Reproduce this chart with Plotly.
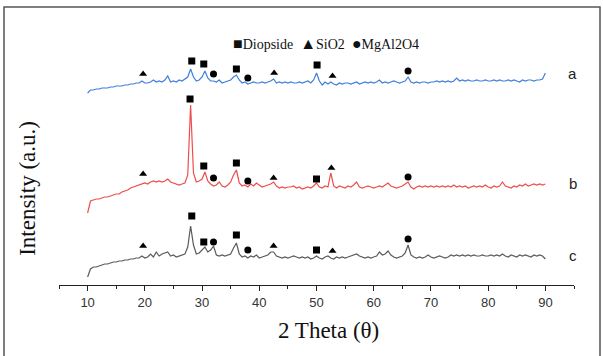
import plotly.graph_objects as go

# 2-theta grid (degrees)
theta = [10 + 0.5 * i for i in range(161)]

# Offset intensity patterns (a.u.)
sample_a = [192, 195, 195, 196, 196, 197, 197, 197, 198, 198,
            199, 199, 199, 200, 200, 201, 201, 202, 202, 204,
            202, 202, 203, 205, 203, 204, 203, 205, 209, 203,
            204, 203, 205, 204, 206, 208, 216, 208, 204, 205,
            208, 214, 207, 204, 204, 203, 205, 202, 203, 204,
            205, 208, 210, 205, 202, 203, 201, 202, 203, 202,
            202, 203, 202, 203, 204, 206, 202, 203, 202, 203,
            202, 203, 202, 202, 203, 202, 203, 204, 202, 205,
            212, 204, 200, 203, 201, 203, 201, 200, 202, 201,
            202, 202, 201, 202, 203, 201, 202, 203, 202, 203,
            202, 203, 205, 202, 203, 202, 203, 204, 203, 202,
            203, 204, 208, 203, 202, 203, 202, 203, 203, 202,
            203, 203, 204, 203, 204, 203, 204, 203, 204, 207,
            204, 205, 204, 205, 204, 204, 205, 204, 204, 205,
            204, 204, 205, 204, 205, 204, 204, 205, 204, 205,
            204, 203, 205, 204, 205, 205, 204, 205, 205, 206,
            212]

sample_b = [72, 84, 85, 86, 86, 87, 88, 88, 89, 90,
            91, 91, 93, 94, 95, 97, 98, 99, 100, 101,
            102, 101, 103, 104, 103, 104, 103, 104, 106, 103,
            102, 101, 100, 101, 102, 110, 180, 112, 103, 104,
            106, 113, 104, 101, 99, 100, 103, 99, 98, 100,
            103, 110, 115, 102, 99, 100, 98, 101, 99, 102,
            100, 98, 99, 100, 101, 103, 99, 97, 98, 97,
            98, 98, 99, 97, 98, 96, 97, 98, 97, 99,
            102, 98, 97, 99, 98, 112, 99, 97, 99, 98,
            97, 99, 98, 100, 103, 98, 97, 98, 99, 98,
            97, 98, 99, 98, 100, 102, 99, 98, 97, 98,
            99, 101, 103, 98, 96, 98, 99, 98, 99, 98,
            99, 98, 99, 98, 99, 98, 99, 98, 100, 98,
            99, 98, 99, 97, 98, 99, 98, 99, 98, 100,
            98, 97, 99, 98, 99, 103, 99, 98, 97, 99,
            98, 100, 99, 101, 99, 100, 101, 100, 101, 100,
            101]

sample_c = [8, 16, 18, 18, 19, 20, 21, 21, 22, 23,
            23, 24, 24, 25, 25, 26, 26, 27, 27, 29,
            27, 28, 31, 28, 33, 29, 31, 32, 33, 29,
            30, 28, 29, 30, 31, 38, 59, 40, 31, 32,
            35, 38, 33, 35, 39, 30, 29, 30, 29, 30,
            31, 37, 42, 31, 28, 29, 27, 29, 28, 30,
            27, 28, 29, 30, 33, 33, 29, 28, 27, 28,
            27, 28, 29, 28, 27, 28, 27, 28, 26, 27,
            29, 27, 26, 28, 29, 27, 26, 28, 27, 28,
            27, 28, 29, 30, 31, 29, 28, 27, 28, 27,
            28, 29, 33, 30, 31, 34, 30, 28, 27, 28,
            29, 32, 40, 30, 28, 27, 28, 27, 28, 30,
            28, 27, 28, 29, 28, 27, 28, 30, 29, 30,
            29, 30, 29, 30, 29, 30, 29, 29, 30, 29,
            29, 30, 29, 30, 29, 31, 29, 28, 30, 29,
            28, 30, 29, 30, 29, 28, 30, 29, 30, 29,
            26]

# Phase markers: (2theta, height, phase)
marks_theta = [19.7, 28.2, 30.3, 32.0, 36.0, 38.0, 42.6, 50.1, 52.8, 66.0,
               19.7, 27.9, 30.3, 32.0, 36.0, 38.0, 42.5, 50.0, 52.6, 66.0,
               19.7, 28.2, 30.3, 32.0, 36.0, 38.0, 42.5, 50.0, 52.8, 66.0]
marks_height = [211, 224, 221, 211, 216, 207, 212, 220, 209, 214,
                111, 186, 119, 107, 122, 104, 107, 106, 117, 108,
                39, 69, 43, 43, 50, 35, 39, 35, 34, 46]
marks_phase = ["S", "D", "D", "M", "D", "M", "S", "D", "S", "M"] * 3
phase_symbol = {"D": "square", "S": "triangle-up", "M": "circle"}

curve_labels = ["a", "b", "c"]
label_heights = [212, 102, 30]

fig = go.Figure()
for y, col in [(sample_a, "#3f7fdc"), (sample_b, "#ee4d4d"), (sample_c, "#5a5a5a")]:
    fig.add_trace(go.Scatter(x=theta, y=y, mode="lines",
                             line=dict(color=col, width=1.2), showlegend=False))

fig.add_trace(go.Scatter(x=marks_theta, y=marks_height, mode="markers",
                         marker=dict(symbol=[phase_symbol[p] for p in marks_phase],
                                     color="black", size=7),
                         showlegend=False))

for lab, h in zip(curve_labels, label_heights):
    fig.add_annotation(x=94.8, y=h, xref="x", yref="y", text=lab, showarrow=False,
                       font=dict(family="Liberation Sans, Arial", size=15, color="#222"))

fig.add_annotation(x=0.518, y=0.916, xref="paper", yref="paper",
                   text="<span style='font-size:16px'>■</span>Diopside  "
                        "<span style='font-size:16px'>▲</span>SiO2  "
                        "<span style='font-size:16px'>●</span>MgAl2O4",
                   showarrow=False,
                   font=dict(family="Liberation Serif, Times New Roman", size=14, color="#111"))

fig.add_annotation(x=0.523, y=-0.165, xref="paper", yref="paper", text="2 Theta (θ)",
                   showarrow=False, yanchor="middle",
                   font=dict(family="Liberation Serif, Times New Roman", size=23, color="#111"))
fig.add_annotation(x=-0.06, y=0.35, xref="paper", yref="paper", text="Intensity (a.u.)",
                   showarrow=False, textangle=-90, xanchor="center", yanchor="middle",
                   font=dict(family="Liberation Serif, Times New Roman", size=23, color="#111"))

fig.add_shape(type="rect", xref="paper", yref="paper",
              x0=-0.1068, x1=1.0505, y0=-0.4, y1=1.0109,
              line=dict(color="#555555", width=1.5))

fig.update_layout(
    width=603, height=356,
    margin=dict(l=59, r=29, t=10, b=71),
    plot_bgcolor="white", paper_bgcolor="white",
    xaxis=dict(range=[5, 95], showline=True, linecolor="#222", linewidth=1.2,
               ticks="outside", ticklen=5, tickcolor="#222", tickwidth=1.2,
               tickvals=[10, 20, 30, 40, 50, 60, 70, 80, 90],
               minor=dict(dtick=5, tick0=5, ticks="outside", ticklen=3, tickcolor="#222"),
               showgrid=False, zeroline=False,
               tickfont=dict(family="Liberation Sans, Arial", size=13, color="#333")),
    yaxis=dict(range=[0, 275], visible=False, showgrid=False, zeroline=False),
)

fig.write_html("out.html", config={"displayModeBar": False},
               post_script="document.body.style.margin='0';document.body.style.overflow='hidden';")
